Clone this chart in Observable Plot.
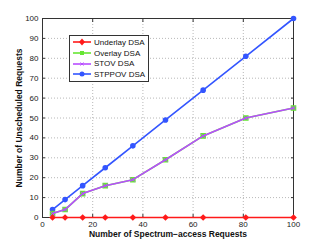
<!DOCTYPE html>
<html><head><meta charset="utf-8">
<script src="https://cdn.jsdelivr.net/npm/d3@7"></script>
<script src="https://cdn.jsdelivr.net/npm/@observablehq/plot@0.6"></script>
<style>
body{margin:0;background:#fff;font-family:"Liberation Sans",Arial,sans-serif;}
#wrap{position:relative;width:324px;height:245px;}
#legend{position:absolute;left:69px;top:35px;border:1px solid #333;background:#fff;font-size:8px;padding:1px 3px 1px 2px;box-sizing:border-box;white-space:nowrap;color:#111;}
#legend div{display:flex;align-items:center;height:10.7px;}
#legend svg{margin-right:2px;flex:none;}
</style></head><body>
<div id="wrap"><div id="legend"></div></div>
<script>
const requests = [4, 9, 16, 25, 36, 49, 64, 81, 100];
const underlay = [0, 0, 0, 0, 0, 0, 0, 0, 0];
const overlay = [2, 4, 12, 16, 19, 29, 41, 50, 55];
const stov = [2, 4, 12, 16, 19, 29, 41, 50, 55];
const stppov = [4, 9, 16, 25, 36, 49, 64, 81, 100];
const seriesNames = ["Underlay DSA", "Overlay DSA", "STOV DSA", "STPPOV DSA"];
const xTicks = [0, 20, 40, 60, 80, 100];
const yTicks = [0, 10, 20, 30, 40, 50, 60, 70, 80, 90, 100];

const colors = {"Underlay DSA": "#ff1a1a", "Overlay DSA": "#66e633", "STOV DSA": "#b84dff", "STPPOV DSA": "#3355ff"};
const symbols = {"Underlay DSA": "diamond2", "Overlay DSA": "square2", "STOV DSA": "times", "STPPOV DSA": "circle"};
const values = [underlay, overlay, stov, stppov];
const data = seriesNames.flatMap((s, i) => requests.map((x, j) => ({series: s, x, y: values[i][j]})));

const order = ["STPPOV DSA", "Overlay DSA", "STOV DSA", "Underlay DSA"];
const marks = [
  Plot.gridX(xTicks, {stroke: "#888", strokeOpacity: 0.6, strokeDasharray: "1,2"}),
  Plot.gridY(yTicks, {stroke: "#888", strokeOpacity: 0.6, strokeDasharray: "1,2"}),
  Plot.frame({stroke: "#333"}),
  Plot.axisX(xTicks, {tickSize: 0, tickPadding: 4, fontSize: 8, fill: "#222", label: null}),
  Plot.axisY(yTicks, {tickSize: 0, tickPadding: 4, fontSize: 8, fill: "#222", label: null}),
  Plot.axisX(xTicks, {tickSize: -3, text: null, label: null, stroke: "#333"}),
  Plot.axisX(xTicks, {anchor: "top", tickSize: -3, text: null, label: null, stroke: "#333"}),
  Plot.axisY(yTicks, {tickSize: -3, text: null, label: null, stroke: "#333"}),
  Plot.axisY(yTicks, {anchor: "right", tickSize: -3, text: null, label: null, stroke: "#333"}),
];
for (const s of order) {
  const d = data.filter(e => e.series === s);
  marks.push(Plot.line(d, {x: "x", y: "y", stroke: colors[s], strokeWidth: 1.6}));
  const sym = symbols[s];
  if (sym === "times") {
    marks.push(Plot.dot(d, {x: "x", y: "y", symbol: "times", r: 2, stroke: colors[s], strokeWidth: 1}));
  } else if (sym === "square2") {
    marks.push(Plot.dot(d, {x: "x", y: "y", symbol: "square", r: 2.3, fill: colors[s], stroke: colors[s]}));
  } else if (sym === "diamond2") {
    marks.push(Plot.dot(d, {x: "x", y: "y", symbol: "diamond2", r: 3, fill: colors[s], stroke: "none"}));
  } else {
    marks.push(Plot.dot(d, {x: "x", y: "y", symbol: "circle", r: 2.8, fill: colors[s], stroke: "none"}));
  }
}
marks.push(Plot.text(["Number of Spectrum\u2212access Requests"], {frameAnchor: "bottom", textAnchor: "middle", dy: 19, fontWeight: "bold", fontSize: 8.5, fill: "#111"}));
marks.push(Plot.text(["Number of Unscheduled Requests"], {frameAnchor: "left", textAnchor: "middle", dx: -23, rotate: -90, fontWeight: "bold", fontSize: 8.5, fill: "#111"}));

const chart = Plot.plot({
  width: 324, height: 245,
  marginLeft: 42, marginRight: 31, marginTop: 18, marginBottom: 28,
  style: {fontFamily: "'Liberation Sans', Arial, sans-serif", background: "#fff", overflow: "visible"},
  x: {domain: [0, 100]},
  y: {domain: [0, 100]},
  marks
});
const wrap = document.getElementById("wrap");
wrap.insertBefore(chart, wrap.firstChild);

const leg = document.getElementById("legend");
for (const s of seriesNames) {
  const row = document.createElement("div");
  const c = colors[s];
  let m;
  if (symbols[s] === "diamond2") m = `<path d="M10,1.5 L13,5 L10,8.5 L7,5Z" fill="${c}"/>`;
  else if (symbols[s] === "square2") m = `<rect x="8" y="3" width="4" height="4" fill="${c}"/>`;
  else if (symbols[s] === "times") m = `<path d="M8.5,3.5 L11.5,6.5 M11.5,3.5 L8.5,6.5" stroke="${c}" stroke-width="1"/>`;
  else m = `<circle cx="10" cy="5" r="2.5" fill="${c}"/>`;
  row.innerHTML = `<svg width="20" height="10"><line x1="1" x2="19" y1="5" y2="5" stroke="${c}" stroke-width="1.6"/>${m}</svg><span>${s}</span>`;
  leg.appendChild(row);
}
</script>
</body></html>
